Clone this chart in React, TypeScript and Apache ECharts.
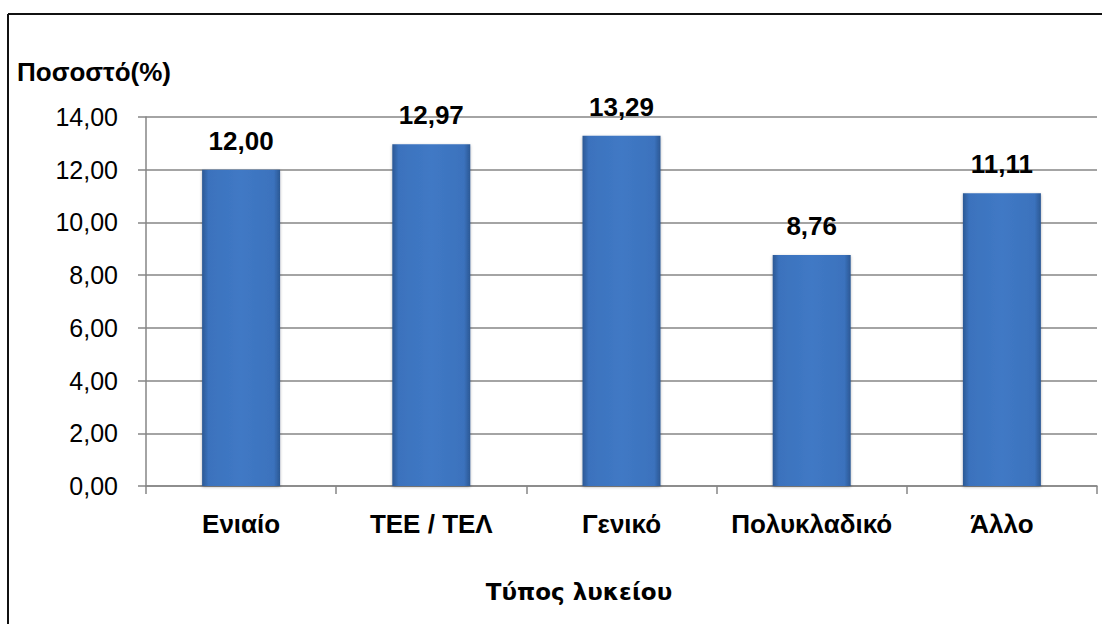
import React, { useEffect, useRef } from "react";
import * as echarts from "echarts";

const categories = ["Ενιαίο", "ΤΕΕ / ΤΕΛ", "Γενικό", "Πολυκλαδικό", "Άλλο"];
const values = [12.0, 12.97, 13.29, 8.76, 11.11];
const yTicks = { min: 0, max: 14, interval: 2 };
const yTitle = "Ποσοστό(%)";
const xTitle = "Τύπος λυκείου";

const fmt = (v: number) => v.toFixed(2).replace(".", ",");
const FONT = "'Liberation Sans', Arial, sans-serif";

export default function App() {
  const ref = useRef<HTMLDivElement>(null);
  useEffect(() => {
    document.body.style.margin = "0";
    const chart = echarts.init(ref.current!, null, { renderer: "svg" });
    chart.setOption({
      animation: false,
      backgroundColor: "#ffffff",
      grid: { left: 146, right: 5, top: 117, bottom: 138, containLabel: false },
      xAxis: {
        type: "category",
        data: categories,
        axisLine: { lineStyle: { color: "#868686", width: 1.5 } },
        axisTick: { show: true, length: 8, alignWithLabel: false, lineStyle: { color: "#868686", width: 1.5 } },
        axisLabel: { interval: 0, hideOverlap: false, color: "#000", fontFamily: FONT, fontWeight: "bold", fontSize: 26, margin: 25 },
      },
      yAxis: {
        type: "value",
        min: yTicks.min,
        max: yTicks.max,
        interval: yTicks.interval,
        axisLine: { show: true, lineStyle: { color: "#868686", width: 1.5 } },
        axisTick: { show: true, length: 8, lineStyle: { color: "#868686", width: 1.5 } },
        splitLine: { lineStyle: { color: "#868686", width: 1.5 } },
        axisLabel: { color: "#000", fontFamily: FONT, fontSize: 25, margin: 28, formatter: (v: number) => fmt(v) },
      },
      graphic: [
        { type: "line", shape: { x1: 8, y1: 14, x2: 1102, y2: 14 }, style: { stroke: "#111", lineWidth: 2 } },
        { type: "line", shape: { x1: 8, y1: 14, x2: 8, y2: 624 }, style: { stroke: "#111", lineWidth: 2 } },
        {
          type: "text",
          x: 17,
          y: 72,
          style: { text: yTitle, fill: "#000", font: `bold 26px ${FONT}`, textVerticalAlign: "middle" },
        },
        {
          type: "text",
          x: 579,
          y: 592,
          style: { text: xTitle, fill: "#000", font: "bold 23px 'DejaVu Sans', Tahoma, sans-serif", textAlign: "center", textVerticalAlign: "middle" },
        },
      ],
      series: [
        {
          type: "bar",
          data: values,
          barWidth: "41%",
          itemStyle: {
            color: new echarts.graphic.LinearGradient(0, 0, 1, 0, [
              { offset: 0, color: "#2b5894" },
              { offset: 0.08, color: "#3b72bd" },
              { offset: 0.5, color: "#4079c5" },
              { offset: 0.92, color: "#3b72bd" },
              { offset: 1, color: "#2b5894" },
            ]),
            shadowColor: "rgba(0,0,0,0.3)",
            shadowBlur: 3,
            shadowOffsetY: 1,
          },
          label: {
            show: true,
            position: "top",
            distance: 16,
            color: "#000",
            fontFamily: FONT,
            fontWeight: "bold",
            fontSize: 26,
            formatter: (p: any) => fmt(p.value),
          },
        },
      ],
    });
    return () => chart.dispose();
  }, []);
  return <div ref={ref} style={{ width: 1102, height: 624 }} />;
}
